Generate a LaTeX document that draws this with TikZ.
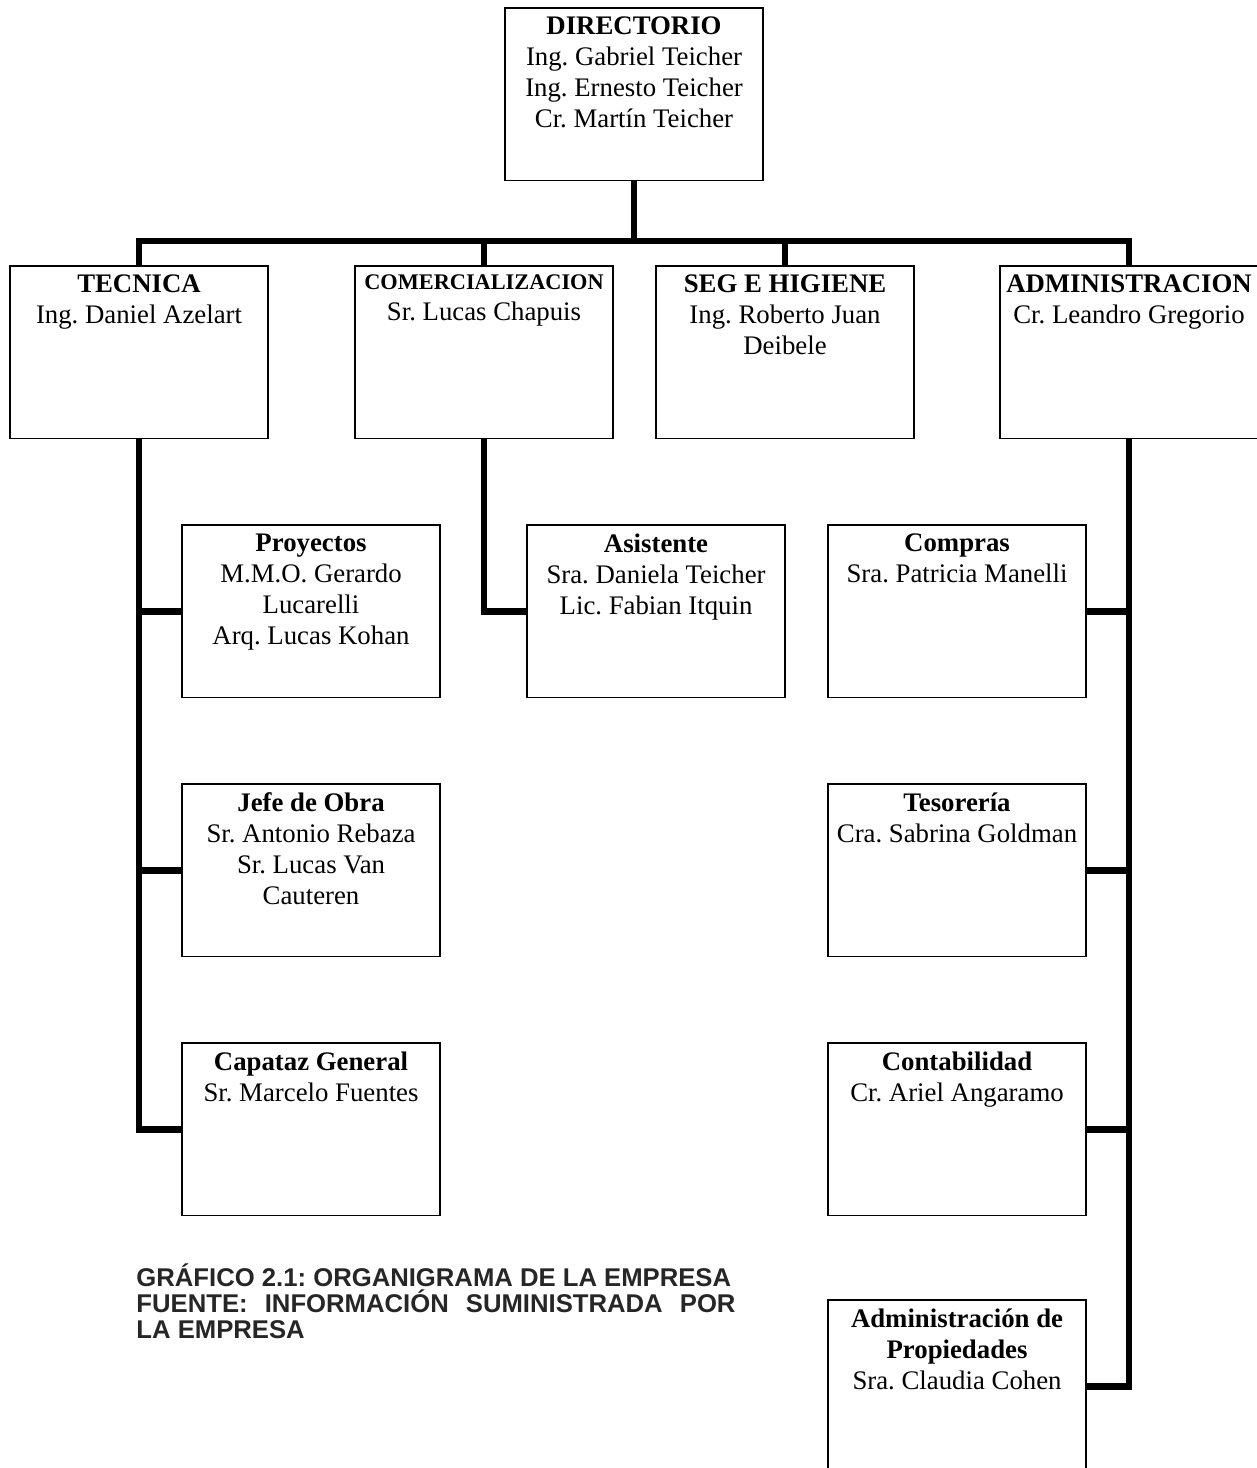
\documentclass[tikz,border=0pt]{standalone}
\usepackage{fontspec}
\setmainfont{Liberation Serif}
\newfontfamily\capfont{Liberation Sans}
\begin{document}
\frenchspacing
\begin{tikzpicture}[x=0.448pt,y=-0.448pt,
  box/.style={draw, line width=0.75pt, minimum width=115.6pt, minimum height=77.3pt, inner sep=0pt, outer sep=0pt, anchor=north west},
  lbl/.style={align=center, anchor=north, inner sep=0pt, yshift=-3.6pt, font=\fontsize{12}{13.9}\selectfont},
  conn/.style={line width=3pt},
  captxt/.style={anchor=base west, inner sep=0pt, text=black!85, font=\capfont\bfseries\fontsize{11.5}{11.7}\selectfont}]
\useasboundingbox (0,0) rectangle (1256,1468);
% boxes
\node[box] (dir)  at (505,8) {};
\node[box] (tec)  at (10,266) {};
\node[box] (com)  at (355,266) {};
\node[box] (seg)  at (656,266) {};
\node[box] (adm)  at (1000,266) {};
\node[box] (proy) at (182,525) {};
\node[box] (jefe) at (182,784) {};
\node[box] (capa) at (182,1043) {};
\node[box] (asis) at (527,525) {};
\node[box] (comp) at (828,525) {};
\node[box] (teso) at (828,784) {};
\node[box] (cont) at (828,1043) {};
\node[box] (prop) at (828,1300) {};
% texts
\node[lbl] (dirT)  at (dir.north)  {\textbf{DIRECTORIO}\\Ing. Gabriel Teicher\\Ing. Ernesto Teicher\\Cr. Martín Teicher};
\node[lbl] (tecT)  at (tec.north)  {\textbf{TECNICA}\\Ing. Daniel Azelart};
\node[lbl] (comT)  at (com.north)  {{\fontsize{10}{11.5}\selectfont\textbf{COMERCIALIZACION}}\\Sr. Lucas Chapuis};
\node[lbl] (segT)  at (seg.north)  {\textbf{SEG E HIGIENE}\\Ing. Roberto Juan\\Deibele};
\node[lbl] (admT)  at (adm.north)  {\textbf{ADMINISTRACION}\\Cr. Leandro Gregorio};
\node[lbl] (proyT) at (proy.north) {\textbf{Proyectos}\\M.M.O. Gerardo\\Lucarelli\\Arq. Lucas Kohan};
\node[lbl] (jefeT) at (jefe.north) {\textbf{Jefe de Obra}\\Sr. Antonio Rebaza\\Sr. Lucas Van\\Cauteren};
\node[lbl] (capaT) at (capa.north) {\textbf{Capataz General}\\Sr. Marcelo Fuentes};
\node[lbl] (asisT) at (asis.north) {\textbf{Asistente}\\Sra. Daniela Teicher\\Lic. Fabian Itquin};
\node[lbl] (compT) at (comp.north) {\textbf{Compras}\\Sra. Patricia Manelli};
\node[lbl] (tesoT) at (teso.north) {\textbf{Tesorería}\\Cra. Sabrina Goldman};
\node[lbl] (contT) at (cont.north) {\textbf{Contabilidad}\\Cr. Ariel Angaramo};
\node[lbl] (propT) at (prop.north) {\textbf{Administración de}\\\textbf{Propiedades}\\Sra. Claudia Cohen};
% connectors
\coordinate (bus) at (633,241);
\draw[conn] (dir.south) -- (dir.south |- bus);
\draw[conn] (tec.north) -- (tec.north |- bus) -- (adm.north |- bus) -- (adm.north);
\draw[conn] (com.north) -- (com.north |- bus);
\draw[conn] (seg.north) -- (seg.north |- bus);
\draw[conn] (tec.south) |- (capa.west);
\draw[conn] (tec.south |- proy.west) -- (proy.west);
\draw[conn] (tec.south |- jefe.west) -- (jefe.west);
\draw[conn] (com.south) |- (asis.west);
\draw[conn] (adm.south) |- (prop.east);
\draw[conn] (adm.south |- comp.east) -- (comp.east);
\draw[conn] (adm.south |- teso.east) -- (teso.east);
\draw[conn] (adm.south |- cont.east) -- (cont.east);
% caption
\node[captxt] (cap1) at (136,1286) {GRÁFICO 2.1: ORGANIGRAMA DE LA EMPRESA};
\node[captxt] (cap2) at (136,1312) {\makebox[268.4pt][s]{FUENTE: INFORMACIÓN SUMINISTRADA POR}};
\node[captxt] (cap3) at (136,1338) {LA EMPRESA};
\end{tikzpicture}
\end{document}
